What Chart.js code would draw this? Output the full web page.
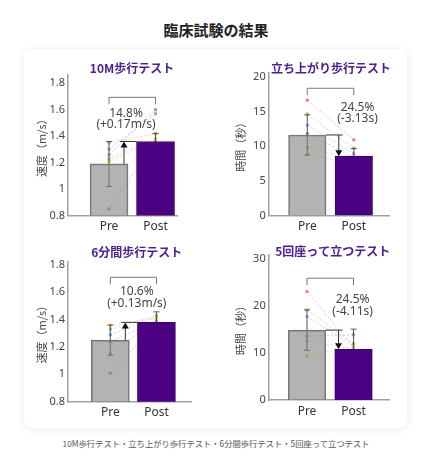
<!DOCTYPE html>
<html><head><meta charset="utf-8">
<script src="https://cdn.jsdelivr.net/npm/chart.js@4.4.1/dist/chart.umd.min.js"></script>
<style>
html,body{margin:0;padding:0;background:#fff;overflow:hidden;width:432px;height:463px;}
#title{position:absolute;left:0;top:19px;width:432px;text-align:center;font-family:"Noto Sans CJK JP",serif;font-weight:700;font-size:15px;color:#222;line-height:22px;}
#card{position:absolute;left:24px;top:49px;width:383px;height:379px;background:#fff;border-radius:8px;box-shadow:0 1px 8px rgba(0,0,0,0.09);}
canvas{position:absolute;}
#foot{position:absolute;left:0;top:436px;width:432px;text-align:center;font-family:"Noto Sans CJK JP",sans-serif;font-size:8.3px;color:#555;line-height:14px;}
</style></head><body>
<div id="title">臨床試験の結果</div>
<div id="card"></div>
<canvas id="c1" width="192" height="190" style="left:24px;top:50px;width:192px;height:190px"></canvas>
<canvas id="c2" width="192" height="190" style="left:216px;top:50px;width:192px;height:190px"></canvas>
<canvas id="c3" width="192" height="190" style="left:24px;top:240px;width:192px;height:190px"></canvas>
<canvas id="c4" width="192" height="190" style="left:216px;top:240px;width:192px;height:190px"></canvas>
<div id="foot">10M歩行テスト・立ち上がり歩行テスト・6分間歩行テスト・5回座って立つテスト</div>
<script>
// ---------- data ----------
const groups = ['Pre', 'Post'];
const testTitles = ['10M歩行テスト', '立ち上がり歩行テスト', '6分間歩行テスト', '5回座って立つテスト'];
const axisTitles = ['速度（m/s）', '時間（秒）', '速度（m/s）', '時間（秒）'];

const walk10Mean = [1.19, 1.36];
const walk10SD = [0.17, 0.06];
const walk10Pre = [0.85, 1.35, 1.30, 1.26, 1.23, 1.21];
const walk10Post = [1.36, 1.42, 1.57, 1.60, 1.38, 1.37];

const tugMean = [11.6, 8.55];
const tugSD = [2.9, 1.1];
const tugPre = [16.6, 14.6, 13.0, 11.8, 9.8, 8.8];
const tugPost = [10.9, 9.7, 8.9, 8.4, 8.0, 7.6];

const walk6Mean = [1.25, 1.38];
const walk6SD = [0.11, 0.077];
const walk6Pre = [1.01, 1.15, 1.24, 1.29, 1.33, 1.36];
const walk6Post = [1.37, 1.40, 1.39, 1.42, 1.43, 1.41];

const stsMean = [14.9, 10.8];
const stsSD = [4.3, 4.3];
const stsPre = [23.1, 19.2, 17.8, 13.6, 12.6, 9.4];
const stsPost = [11.3, 12.0, 11.6, 13.9, 10.9, 11.4];

const changePct = ['14.8%', '24.5%', '10.6%', '24.5%'];
const changeAbs = ['(+0.17m/s)', '(-3.13s)', '(+0.13m/s)', '(-4.11s)'];

const speedTicks = [0.8, 1, 1.2, 1.4, 1.6, 1.8];
const tugTicks = [0, 5, 10, 15, 20];
const stsTicks = [0, 10, 20, 30];

// ---------- layout / style ----------
const subjectColors = ['#e07b91', '#d9a441', '#b48fd0', '#6fa3dc', '#8fc27a', '#e6c23a'];
const XAH = 20;
const panels = [
  { id: 'c1', rect: [24, 50, 192, 190], area: [68, 177, 75, 215.5], yTitleX: 41.7,
    yMin: 0.8, yMax: 1.863, xMin: -0.882, xMax: 1.462, barW: 38,
    titleX: 132, titleY: 68.3, bracketV: 1.694, textXV: 0.366, textDy: [16.7, 27],
    mean: walk10Mean, sd: walk10SD, pre: walk10Pre, post: walk10Post, ticks: speedTicks },
  { id: 'c2', rect: [216, 50, 192, 190], area: [268.7, 389, 73, 215.5], yTitleX: 241,
    yMin: 0, yMax: 20.53, xMin: -0.83, xMax: 1.757, barW: 37.5,
    titleX: 331, titleY: 68.3, bracketV: 18.33, textXV: 1.08, textDy: [19.4, 30],
    mean: tugMean, sd: tugSD, pre: tugPre, post: tugPost, ticks: tugTicks },
  { id: 'c3', rect: [24, 240, 192, 190], area: [68, 191.7, 261.7, 401.7], yTitleX: 41.7,
    yMin: 0.8, yMax: 1.824, xMin: -0.918, xMax: 1.765, barW: 38,
    titleX: 136.7, titleY: 252.7, bracketV: 1.71, textXV: 0.574, textDy: [14.4, 26],
    mean: walk6Mean, sd: walk6SD, pre: walk6Pre, post: walk6Post, ticks: speedTicks },
  { id: 'c4', rect: [216, 240, 192, 190], area: [268.7, 389, 255, 400], yTitleX: 241,
    yMin: 0, yMax: 30.9, xMin: -0.824, xMax: 1.763, barW: 37.5,
    titleX: 332.7, titleY: 251.7, bracketV: 25.95, textXV: 0.98, textDy: [21.7, 33.4],
    mean: stsMean, sd: stsSD, pre: stsPre, post: stsPost, ticks: stsTicks }
];

const overlay = {
  id: 'overlay',
  beforeDatasetsDraw(chart, args, opts) {
    const p = opts.panel;
    const { ctx, scales: { x, y } } = chart;
    const x0 = x.getPixelForValue(0), x1 = x.getPixelForValue(1);
    ctx.save();
    // individual subjects
    for (let i = 0; i < p.pre.length; i++) {
      const c = subjectColors[i % subjectColors.length];
      const ya = y.getPixelForValue(p.pre[i]), yb = y.getPixelForValue(p.post[i]);
      ctx.globalAlpha = 0.6;
      ctx.strokeStyle = c; ctx.lineWidth = 0.8; ctx.setLineDash([2, 2]);
      ctx.beginPath(); ctx.moveTo(x0, ya); ctx.lineTo(x1, yb); ctx.stroke();
      ctx.setLineDash([]);
      ctx.globalAlpha = 0.95;
      ctx.fillStyle = c;
      ctx.fillRect(x0 - 1.5, ya - 1.5, 3, 3);
      ctx.fillRect(x1 - 1.5, yb - 1.5, 3, 3);
    }
    ctx.globalAlpha = 1;
    // error bars
    ctx.strokeStyle = '#555'; ctx.lineWidth = 1;
    [x0, x1].forEach((xc, j) => {
      const yt = y.getPixelForValue(p.mean[j] + p.sd[j]);
      const yb = y.getPixelForValue(p.mean[j] - p.sd[j]);
      ctx.beginPath();
      ctx.moveTo(xc, yt); ctx.lineTo(xc, yb);
      ctx.moveTo(xc - 3, yt); ctx.lineTo(xc + 3, yt);
      ctx.moveTo(xc - 3, yb); ctx.lineTo(xc + 3, yb);
      ctx.stroke();
    });
    ctx.restore();
  },
  afterDatasetsDraw(chart, args, opts) {
    const p = opts.panel, k = opts.index;
    const { ctx, scales: { x, y } } = chart;
    const ox = chart.canvas.offsetLeft, oy = chart.canvas.offsetTop;
    const x0 = x.getPixelForValue(0), x1 = x.getPixelForValue(1);
    const yPre = y.getPixelForValue(p.mean[0]), yPost = y.getPixelForValue(p.mean[1]);
    const half = p.barW / 2;
    ctx.save();
    // bracket
    const by = y.getPixelForValue(p.bracketV);
    ctx.strokeStyle = '#777'; ctx.lineWidth = 1;
    ctx.beginPath();
    ctx.moveTo(x0, by + 7); ctx.lineTo(x0, by); ctx.lineTo(x1, by); ctx.lineTo(x1, by + 7);
    ctx.stroke();
    // arrow
    ctx.strokeStyle = '#333'; ctx.fillStyle = '#111';
    const up = p.mean[1] > p.mean[0];
    let ax, yFrom, yTo;
    ctx.beginPath();
    if (up) {
      ax = x0 + 15; yFrom = yPre; yTo = yPost;
      ctx.moveTo(ax - 4, yPost); ctx.lineTo(x1 - half, yPost);
      ctx.moveTo(ax, yFrom); ctx.lineTo(ax, yTo + 5);
    } else {
      ax = x1 - 15; yFrom = yPre; yTo = yPost;
      ctx.moveTo(x0 + half, yPre); ctx.lineTo(ax + 4, yPre);
      ctx.moveTo(ax, yFrom); ctx.lineTo(ax, yTo - 5);
    }
    ctx.stroke();
    ctx.beginPath();
    if (up) { ctx.moveTo(ax, yTo); ctx.lineTo(ax - 3.5, yTo + 6); ctx.lineTo(ax + 3.5, yTo + 6); }
    else { ctx.moveTo(ax, yTo); ctx.lineTo(ax - 3.5, yTo - 6); ctx.lineTo(ax + 3.5, yTo - 6); }
    ctx.closePath(); ctx.fill();
    // change text
    const tx = x.getPixelForValue(p.textXV);
    ctx.fillStyle = '#444'; ctx.textAlign = 'center'; ctx.textBaseline = 'middle';
    ctx.font = '12px "Noto Sans"';
    ctx.fillText(changePct[k], tx, by + p.textDy[0]);
    ctx.fillText(changeAbs[k], tx, by + p.textDy[1]);
    // panel title
    ctx.fillStyle = '#4b2190';
    ctx.font = 'bold 12px "Noto Sans CJK JP"';
    ctx.fillText(testTitles[k], p.titleX - ox, p.titleY - oy);
    ctx.restore();
  }
};

panels.forEach((p, k) => {
  const [rx, ry, rw, rh] = p.rect;
  const [aL, aR, aT, aB] = p.area;
  const scaleLeft = p.yTitleX - 6.6;
  const yaW = aL - scaleLeft;
  const padding = {
    left: scaleLeft - rx,
    right: rx + rw - aR,
    top: aT - ry,
    bottom: ry + rh - aB - XAH
  };
  new Chart(document.getElementById(p.id), {
    type: 'bar',
    data: {
      datasets: [{
        data: groups.map((g, i) => ({ x: i, y: p.mean[i] })),
        backgroundColor: ['rgba(128,128,128,0.6)', '#4b0082'],
        borderColor: ['rgba(105,105,105,0.9)', '#3a0066'],
        borderWidth: 1,
        barThickness: p.barW
      }]
    },
    options: {
      responsive: false,
      animation: false,
      layout: { padding },
      plugins: { legend: { display: false }, tooltip: { enabled: false }, title: { display: false },
        overlay: { panel: p, index: k } },
      scales: {
        x: {
          type: 'linear', min: p.xMin, max: p.xMax, offset: false,
          grid: { display: false, drawTicks: false },
          border: { display: true, color: '#a0a0a0', width: 1.5 },
          afterBuildTicks: s => { s.ticks = groups.map((g, i) => ({ value: i })); },
          ticks: { callback: v => groups[v], color: '#333', padding: 4, autoSkip: false, maxRotation: 0,
            font: { family: 'Noto Sans', size: 12 } },
          afterFit: s => { s.height = XAH; }
        },
        y: {
          min: p.yMin, max: p.yMax,
          grid: { display: false, drawTicks: false },
          border: { display: true, color: '#a0a0a0', width: 1.5 },
          afterBuildTicks: s => { s.ticks = p.ticks.map(v => ({ value: v })); },
          ticks: { callback: v => String(v), color: '#444', padding: 3,
            font: { family: 'Noto Sans', size: 11 } },
          title: { display: true, text: axisTitles[k], color: '#444', padding: 0,
            font: { family: 'Noto Sans CJK JP', size: 11 } },
          afterFit: s => { s.width = yaW; }
        }
      }
    },
    plugins: [overlay]
  });
});
</script>
</body></html>
